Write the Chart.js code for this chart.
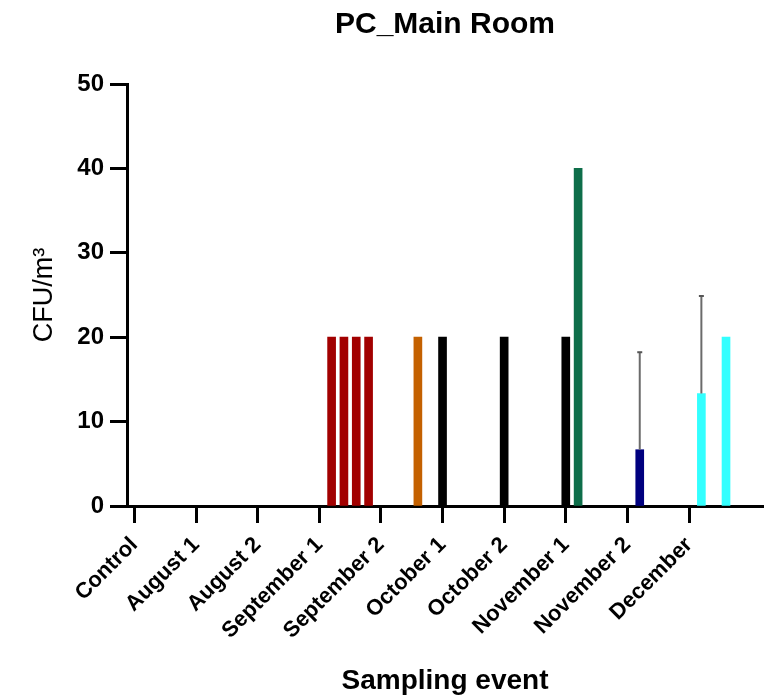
<!DOCTYPE html>
<html>
<head>
<meta charset="utf-8">
<script src="https://cdn.jsdelivr.net/npm/chart.js@4.4.1/dist/chart.umd.min.js"></script>
<style>
  html, body { margin: 0; padding: 0; background: #fff; }
  #wrap { width: 769px; height: 698px; }
</style>
</head>
<body>
<div id="wrap"><canvas id="cfuChart"></canvas></div>
<script>
// sampling events (one tick each) and the replicate slots inside each event
const events = ['Control', 'August 1', 'August 2', 'September 1', 'September 2',
                'October 1', 'October 2', 'November 1', 'November 2', 'December'];
const SLOTS = 5;

// CFU/m3 per slot, null = no column
const cfuValues = [
    [0, null, null, null, null],       // Control
    [0, null, null, null, null],       // August 1
    [0, null, null, null, null],       // August 2
    [null, 20, 20, 20, 20],            // September 1
    [null, null, null, 20, null],      // September 2
    [20, null, null, null, null],      // October 1
    [20, null, null, null, null],      // October 2
    [20, 40, null, null, null],        // November 1
    [null, 6.67, null, null, null],    // November 2
    [null, 13.33, null, 20, null]      // December
];
// standard deviation (upper error bar), 0 = none
const cfuSD = [
    [0, 0, 0, 0, 0],
    [0, 0, 0, 0, 0],
    [0, 0, 0, 0, 0],
    [0, 0, 0, 0, 0],
    [0, 0, 0, 0, 0],
    [0, 0, 0, 0, 0],
    [0, 0, 0, 0, 0],
    [0, 0, 0, 0, 0],
    [0, 11.55, 0, 0, 0],
    [0, 11.55, 0, 0, 0]
];
const yTicks = [0, 10, 20, 30, 40, 50];

// first slot is always black, the others take the event colour
const eventColors = ['#000000', '#000000', '#000000', '#A20000', '#C46100',
                     '#000000', '#000000', '#0E6E4A', '#00007F', '#33FFFF'];

const points = [];
const colors = [];
const errors = [];
events.forEach((ev, g) => {
    cfuValues[g].forEach((v, k) => {
        if (v === null) return;
        points.push({ x: g * SLOTS + k, y: v });
        colors.push(k === 0 ? '#000000' : eventColors[g]);
        errors.push(cfuSD[g][k]);
    });
});

// draws the upper SD whiskers
const errorBars = {
    id: 'errorBars',
    afterDatasetsDraw(chart) {
        const c = chart.ctx;
        const yScale = chart.scales.y;
        chart.data.datasets.forEach((ds, di) => {
            const meta = chart.getDatasetMeta(di);
            meta.data.forEach((bar, i) => {
                const err = ds.errors[i];
                if (!err) return;
                const top = yScale.getPixelForValue(ds.data[i].y + err);
                c.save();
                c.strokeStyle = '#6b6b6b';
                c.lineWidth = 2;
                c.beginPath();
                c.moveTo(bar.x, bar.y);
                c.lineTo(bar.x, top);
                c.stroke();
                c.strokeStyle = '#555';
                c.beginPath();
                c.moveTo(bar.x - 2.5, top);
                c.lineTo(bar.x + 2.5, top);
                c.stroke();
                c.restore();
            });
        });
    }
};

const boldFont = size => ({ family: '"Liberation Sans", Arial, sans-serif', size: size, weight: 'bold' });

new Chart(document.getElementById('cfuChart'), {
    type: 'bar',
    data: {
        datasets: [{
            data: points,
            errors: errors,
            backgroundColor: colors,
            barThickness: 8,
            borderWidth: 0
        }]
    },
    options: {
        responsive: true,
        maintainAspectRatio: false,
        animation: false,
        layout: { padding: { left: 0, right: 6, top: 0, bottom: 0 } },
        plugins: {
            legend: { display: false },
            tooltip: { enabled: false },
            title: {
                display: true,
                text: 'PC_Main Room',
                fullSize: false,
                color: '#000',
                font: boldFont(30),
                padding: { top: 7, bottom: 41 }
            }
        },
        scales: {
            x: {
                type: 'linear',
                min: -0.6,
                max: 51,
                offset: false,
                afterBuildTicks: scale => {
                    scale.ticks = events.map((e, i) => ({ value: i * SLOTS }));
                },
                afterFit: scale => { scale.height = 192; },
                ticks: {
                    autoSkip: false,
                    minRotation: 45,
                    maxRotation: 45,
                    color: '#000',
                    font: boldFont(22),
                    padding: 9,
                    callback: v => events[Math.round(v / SLOTS)]
                },
                grid: {
                    offset: false,
                    drawOnChartArea: false,
                    tickLength: 17,
                    tickWidth: 3,
                    tickColor: '#000'
                },
                border: { color: '#000', width: 3 },
                title: {
                    display: true,
                    text: 'Sampling event',
                    color: '#000',
                    font: boldFont(28),
                    padding: { top: 0, bottom: 0 }
                }
            },
            y: {
                min: 0,
                max: 50,
                afterBuildTicks: scale => {
                    scale.ticks = yTicks.map(v => ({ value: v }));
                },
                afterFit: scale => { scale.width = 127; },
                ticks: {
                    color: '#000',
                    font: boldFont(24),
                    padding: 6
                },
                grid: {
                    drawOnChartArea: false,
                    tickLength: 17,
                    tickWidth: 3,
                    tickColor: '#000'
                },
                border: { color: '#000', width: 3 },
                title: {
                    display: true,
                    text: 'CFU/m³',
                    color: '#000',
                    font: { family: '"Liberation Sans", Arial, sans-serif', size: 27 },
                    padding: { top: 28, bottom: 0 }
                }
            }
        }
    },
    plugins: [errorBars]
});
</script>
</body>
</html>
